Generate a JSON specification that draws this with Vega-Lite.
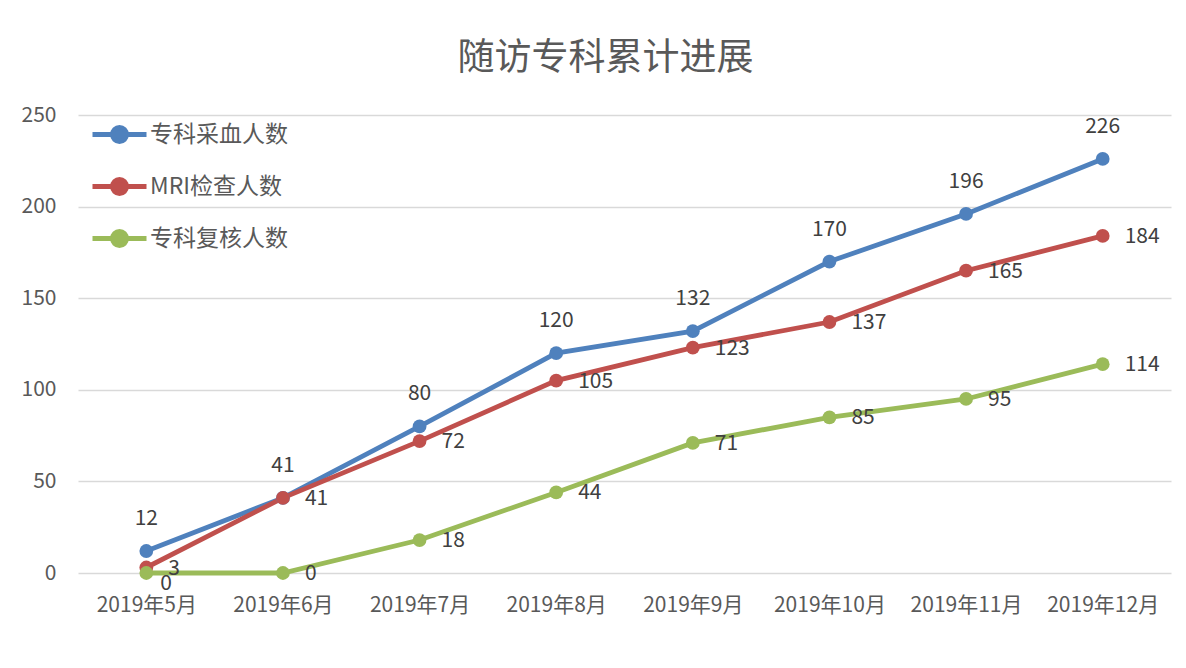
{
  "$schema": "https://vega.github.io/schema/vega-lite/v6.json",
  "width": 1093,
  "height": 458,
  "autosize": "none",
  "padding": {"left": 78, "top": 115, "right": 15, "bottom": 95},
  "background": "white",
  "title": {
    "text": "随访专科累计进展",
    "font": "Noto Sans CJK SC",
    "fontSize": 37,
    "fontWeight": "normal",
    "color": "#595959",
    "anchor": "middle",
    "dx": -19,
    "offset": 26
  },
  "config": {
    "view": {"stroke": null},
    "font": "Noto Sans CJK SC",
    "axis": {
      "labelFont": "Noto Sans CJK SC",
      "labelColor": "#595959",
      "labelFontSize": 21,
      "title": null,
      "ticks": false,
      "domain": false,
      "gridColor": "#D9D9D9",
      "gridWidth": 1.5
    }
  },
  "data": {
    "values": [
      {"month": "2019年5月", "series": "专科采血人数", "value": 12},
      {"month": "2019年6月", "series": "专科采血人数", "value": 41},
      {"month": "2019年7月", "series": "专科采血人数", "value": 80},
      {"month": "2019年8月", "series": "专科采血人数", "value": 120},
      {"month": "2019年9月", "series": "专科采血人数", "value": 132},
      {"month": "2019年10月", "series": "专科采血人数", "value": 170},
      {"month": "2019年11月", "series": "专科采血人数", "value": 196},
      {"month": "2019年12月", "series": "专科采血人数", "value": 226},
      {"month": "2019年5月", "series": "MRI检查人数", "value": 3},
      {"month": "2019年6月", "series": "MRI检查人数", "value": 41},
      {"month": "2019年7月", "series": "MRI检查人数", "value": 72},
      {"month": "2019年8月", "series": "MRI检查人数", "value": 105},
      {"month": "2019年9月", "series": "MRI检查人数", "value": 123},
      {"month": "2019年10月", "series": "MRI检查人数", "value": 137},
      {"month": "2019年11月", "series": "MRI检查人数", "value": 165},
      {"month": "2019年12月", "series": "MRI检查人数", "value": 184},
      {"month": "2019年5月", "series": "专科复核人数", "value": 0},
      {"month": "2019年6月", "series": "专科复核人数", "value": 0},
      {"month": "2019年7月", "series": "专科复核人数", "value": 18},
      {"month": "2019年8月", "series": "专科复核人数", "value": 44},
      {"month": "2019年9月", "series": "专科复核人数", "value": 71},
      {"month": "2019年10月", "series": "专科复核人数", "value": 85},
      {"month": "2019年11月", "series": "专科复核人数", "value": 95},
      {"month": "2019年12月", "series": "专科复核人数", "value": 114}
    ]
  },
  "encoding": {
    "x": {
      "field": "month",
      "type": "ordinal",
      "sort": null,
      "scale": {"type": "point", "padding": 0.5},
      "axis": {"labelAngle": 0, "labelPadding": 21, "grid": false}
    },
    "y": {
      "field": "value",
      "type": "quantitative",
      "scale": {"domain": [0, 250], "nice": false},
      "axis": {"values": [0, 50, 100, 150, 200, 250], "labelPadding": 22, "grid": true}
    }
  },
  "layer": [
    {
      "mark": {"type": "line", "strokeWidth": 4.8, "strokeCap": "round"},
      "encoding": {
        "color": {
          "field": "series",
          "type": "nominal",
          "sort": ["专科采血人数", "MRI检查人数", "专科复核人数"],
          "scale": {"domain": ["专科采血人数", "MRI检查人数", "专科复核人数"], "range": ["#4F81BD", "#C0504D", "#9BBB59"]},
          "legend": {
            "title": null,
            "orient": "none",
            "legendX": 12,
            "legendY": -10,
            "symbolType": "M-1,0L1,0M0.26,0A0.26,0.26 0 1,1 -0.26,0A0.26,0.26 0 1,1 0.26,0Z",
            "symbolSize": 2916,
            "symbolStrokeWidth": 4.8,
            "labelFontSize": 23,
            "labelColor": "#595959",
            "labelFont": "Noto Sans CJK SC",
            "labelOffset": 1,
            "rowPadding": 5,
            "labelLimit": 300,
            "encode": {
              "symbols": {
                "update": {
                  "fill": {"scale": "color", "field": "value"},
                  "stroke": {"scale": "color", "field": "value"}
                }
              }
            }
          }
        }
      }
    },
    {
      "mark": {"type": "point", "filled": true, "opacity": 1, "size": 190},
      "encoding": {
        "color": {"field": "series", "type": "nominal", "legend": null}
      }
    },
    {
      "transform": [{"filter": "datum.series === '专科采血人数'"}],
      "mark": {"type": "text", "dy": -32, "fontSize": 21, "color": "#404040", "font": "Noto Sans CJK SC"},
      "encoding": {"text": {"field": "value", "type": "quantitative"}}
    },
    {
      "transform": [{"filter": "datum.series !== '专科采血人数' && !(datum.series === '专科复核人数' && datum.month === '2019年5月')"}],
      "mark": {"type": "text", "align": "left", "dx": 22, "dy": 1, "fontSize": 21, "color": "#404040", "font": "Noto Sans CJK SC"},
      "encoding": {"text": {"field": "value", "type": "quantitative"}}
    },
    {
      "transform": [{"filter": "datum.series === '专科复核人数' && datum.month === '2019年5月'"}],
      "mark": {"type": "text", "align": "left", "dx": 14, "dy": 11, "fontSize": 21, "color": "#404040", "font": "Noto Sans CJK SC"},
      "encoding": {"text": {"field": "value", "type": "quantitative"}}
    }
  ]
}
